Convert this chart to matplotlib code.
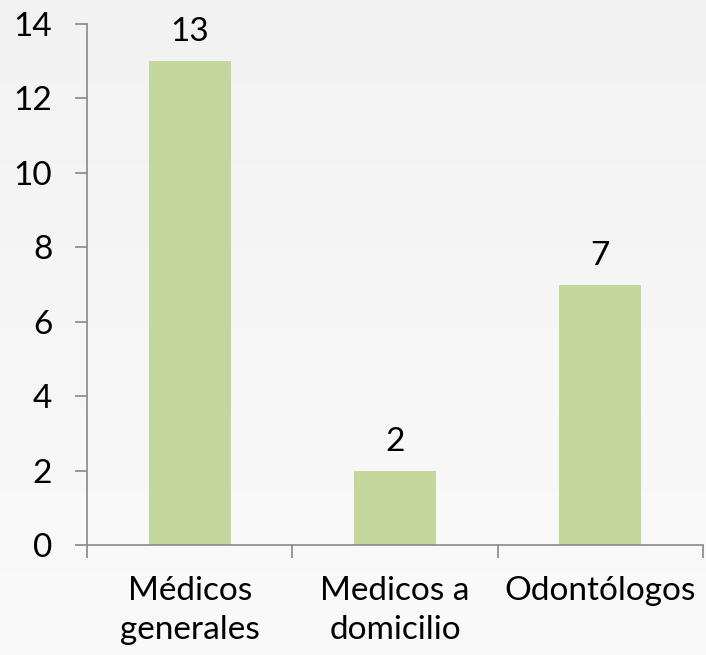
import matplotlib
matplotlib.use("Agg")
import matplotlib.pyplot as plt
import numpy as np

categories = ["Médicos\ngenerales", "Medicos a\ndomicilio", "Odontólogos"]
values = [13, 2, 7]
yticks = [0, 2, 4, 6, 8, 10, 12, 14]

plt.rcParams['font.family'] = ['Lato', 'DejaVu Sans']
FS = 24

fig = plt.figure(figsize=(7.06, 6.55), dpi=100)
fig.patch.set_facecolor('#f6f6f6')
# subtle background gradient
bg = fig.add_axes([0, 0, 1, 1], zorder=-10)
grad = np.linspace(0, 1, 256).reshape(-1, 1)
bg.imshow(grad, aspect='auto', cmap=matplotlib.colors.LinearSegmentedColormap.from_list('g', ['#f2f2f2', '#fafafa']),
          extent=[0, 1, 0, 1])
bg.axis('off')

ax = fig.add_axes([87/706, 1-545/655, (703-87)/706, (545-24)/655])
ax.set_facecolor('none')
x = np.arange(len(categories))
bars = ax.bar(x, values, width=0.4, color='#c4d79b', zorder=2)
for xi, v in zip(x, values):
    ax.annotate(str(v), (xi, v), xytext=(0, 10), textcoords='offset points',
                ha='center', va='bottom', fontsize=FS, color='black')

ax.set_xlim(-0.5, 2.5)
ax.set_ylim(0, 14)
ax.set_yticks(yticks)
ax.set_yticklabels([str(t) for t in yticks], fontsize=FS)
ax.set_xticks(x)
ax.set_xticklabels(categories, fontsize=FS, linespacing=1.4)
ax.set_xticks([-0.5, 0.5, 1.5, 2.5], minor=True)
ax.tick_params(axis='x', which='major', length=0, pad=22)
ax.tick_params(axis='x', which='minor', length=9, width=1.2, color='#888888')
ax.tick_params(axis='y', length=9, width=1.2, color='#888888', pad=16)
for s in ['top', 'right']:
    ax.spines[s].set_visible(False)
for s in ['left', 'bottom']:
    ax.spines[s].set_color('#888888')
    ax.spines[s].set_linewidth(1.2)

fig.savefig('out.png', dpi=100, facecolor=fig.get_facecolor())
